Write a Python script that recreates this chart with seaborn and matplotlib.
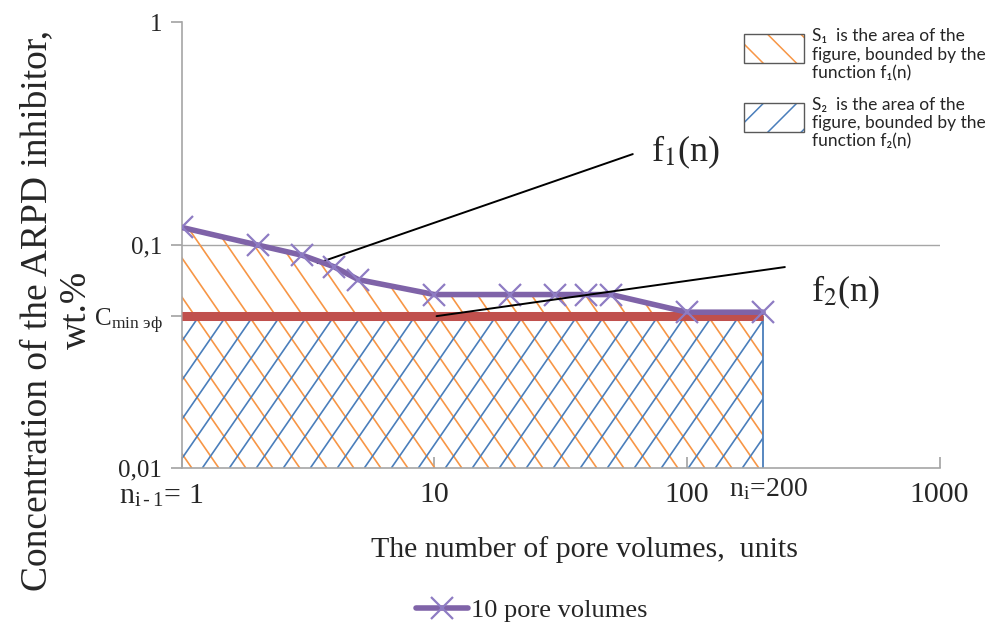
import matplotlib
matplotlib.use("Agg")
import matplotlib.pyplot as plt
import seaborn as sns
import numpy as np
from matplotlib.patches import Rectangle
from matplotlib.lines import Line2D
from matplotlib.collections import LineCollection
from matplotlib.transforms import ScaledTranslation, Affine2D
from matplotlib.legend_handler import HandlerBase

# ---- data ----
pore_volumes = [1, 2, 3, 4, 5, 10, 20, 30, 40, 50, 100, 200]
concentration_f1 = [0.12, 0.1, 0.09, 0.08, 0.07, 0.06, 0.06, 0.06, 0.06, 0.06, 0.05, 0.05]
c_min_eff = 0.048
n_start, n_end = 1, 200
x_ticks = [1, 10, 100, 1000]
x_tick_labels = [r"n$_{\mathregular{i\,\text{-}\,1}}$= 1", "10", "100", "1000"]
y_ticks = [0.01, c_min_eff, 0.1, 1]
y_tick_labels = ["0,01", r"C$_{\mathregular{min\ эф}}$", "0,1", "1"]
series_label = "10 pore volumes"
s1_label = "S\u2081  is the area of the\nfigure, bounded by the\nfunction f\u2081(n)"
s2_label = "S\u2082  is the area of the\nfigure, bounded by the\nfunction f\u2082(n)"

sns.set_theme(style="white")
plt.rcParams['font.family'] = ['Liberation Serif', 'DejaVu Serif']
plt.rcParams['mathtext.fontset'] = 'stix'
plt.rcParams['hatch.linewidth'] = 1.1

purple = "#7F63A8"
marker_purple = "#8E7CC3"
red = "#C0504D"
orange = "#F79646"
blue = "#4A7EBB"
grey = "#A6A6A6"

FW, FH = 9.88, 6.27
AX_RECT = [0.184, 0.2536, 0.767, 0.711]
fig = plt.figure(figsize=(FW, FH), dpi=100)
ax = fig.add_axes(AX_RECT)
ax.set_xscale('log')
ax.set_yscale('log')
ax.set_xlim(1, 1000)
ax.set_ylim(0.01, 1)

W = AX_RECT[2] * FW * 100
H = AX_RECT[3] * FH * 100

x = np.array(pore_volumes, dtype=float)
y = np.array(concentration_f1, dtype=float)

# invisible areas used as clip regions for the hatching
area1 = ax.fill_between(x, 0.01, y, facecolor='none', linewidth=0)
area2 = ax.fill_between([n_start, n_end], 0.01, c_min_eff, facecolor='none', linewidth=0)


def hatch(area, direction, color, spacing=27.0, slope=1.45, phase=0.0, z=1):
    dx = H / slope
    segs = []
    if direction > 0:  # '/'
        x0 = -dx + phase
        while x0 < W:
            segs.append([(x0, 0), (x0 + dx, H)])
            x0 += spacing
    else:  # '\'
        x0 = phase
        while x0 < W + dx:
            segs.append([(x0, 0), (x0 - dx, H)])
            x0 += spacing
    trans = Affine2D().scale(1 / W, 1 / H) + ax.transAxes
    lc = LineCollection(segs, colors=color, linewidths=1.2, transform=trans, zorder=z)
    ax.add_collection(lc, autolim=False)
    lc.set_clip_path(area.get_paths()[0], ax.transData)


hatch(area1, -1, orange, phase=10, z=1)
hatch(area2, +1, blue, phase=4, z=1.5)
ax.vlines(n_end, 0.01, c_min_eff, color=blue, lw=1.3, zorder=2)

# grid line at 0.1
ax.axhline(0.1, color=grey, lw=1, zorder=0.5)

# Cmin line
ax.hlines(c_min_eff, n_start, n_end, color=red, lw=6.5, zorder=3)

# f1 series
sns.lineplot(x=pore_volumes, y=concentration_f1, ax=ax, color=purple, linewidth=4,
             marker='x', markersize=16, markeredgewidth=1.6, markeredgecolor=marker_purple,
             legend=False, zorder=4)

# annotations
ax.annotate("", xy=(3.45, 0.083), xytext=(61, 0.256),
            arrowprops=dict(arrowstyle='-', color='black', lw=1.4, shrinkA=0, shrinkB=0))
ax.text(72, 0.262, "f$_1$(n)", fontsize=26, ha='left', va='center')
ax.annotate("", xy=(10.2, 0.048), xytext=(244, 0.0797), zorder=5,
            arrowprops=dict(arrowstyle='-', color='black', lw=1.4, shrinkA=0, shrinkB=0))
ax.text(310, 0.0615, "f$_2$(n)", fontsize=26, ha='left', va='center')
ax.annotate("n$_{\\mathregular{i}}$=200", xy=(n_end, 0), xycoords=('data', 'axes fraction'),
            xytext=(4, -6), textcoords='offset points', ha='center', va='top', fontsize=20)

# axes styling
for s in ['top', 'right']:
    ax.spines[s].set_visible(False)
for s in ['left', 'bottom']:
    ax.spines[s].set_color(grey)
    ax.spines[s].set_linewidth(1.2)

ax.set_xticks(x_ticks)
ax.set_xticklabels(x_tick_labels, fontsize=21.5)
ax.set_yticks(y_ticks)
ax.set_yticklabels(y_tick_labels, fontsize=18)
ax.minorticks_off()
ax.tick_params(axis='x', direction='in', length=8, color=grey, pad=10, bottom=True)
ax.tick_params(axis='y', direction='out', length=8, color=grey, pad=6, left=True)

lbl = ax.get_xticklabels()[0]
lbl.set_ha('right')
lbl.set_transform(lbl.get_transform() + ScaledTranslation(0.22, 0, fig.dpi_scale_trans))

ax.set_xlabel("The number of pore volumes,  units", fontsize=21.5)
ax.xaxis.set_label_coords(0.532, -0.152)
ax.set_ylabel("Concentration of the ARPD inhibitor,\nwt.%", fontsize=27,
              linespacing=1.2, va='center', ha='center')
ax.yaxis.set_label_coords(-0.165, 0.354)

# bottom legend
h = Line2D([], [], color=purple, lw=4, marker='x', markersize=16, markeredgewidth=1.6,
           markeredgecolor=marker_purple)
fig.legend([h], [series_label], loc='lower center', bbox_to_anchor=(0.538, -0.03),
           frameon=False, fontsize=19, handlelength=2.0, handletextpad=0.1)


# top-right hatch legend
class HatchBoxHandler(HandlerBase):
    def __init__(self, color, hatch_pat, shift):
        super().__init__()
        self.color = color
        self.hatch_pat = hatch_pat
        self.shift = shift

    def create_artists(self, legend, orig_handle, xdescent, ydescent, width, height,
                       fontsize, trans):
        xy = (-xdescent, -ydescent + self.shift)
        r1 = Rectangle(xy, width, height, facecolor='white', edgecolor=self.color,
                       hatch=self.hatch_pat, lw=0, transform=trans)
        r2 = Rectangle(xy, width, height, facecolor='none', edgecolor='#595959',
                       lw=1.0, transform=trans)
        return [r1, r2]


k1 = Rectangle((0, 0), 1, 1)
k2 = Rectangle((0, 0), 1, 1)
leg2 = fig.legend([k1, k2], [s1_label, s2_label], loc='upper right',
                  bbox_to_anchor=(0.998, 0.955), frameon=False,
                  prop={'family': ['Lato', 'DejaVu Sans'], 'size': 12.5},
                  handlelength=3.5, handleheight=2.2, labelspacing=0.9,
                  handletextpad=0.45, borderpad=0, borderaxespad=0,
                  handler_map={k1: HatchBoxHandler(orange, '\\', 5),
                               k2: HatchBoxHandler(blue, '/', 5)})
for t in leg2.get_texts():
    t.set_linespacing(1.18)

fig.savefig("out.png", dpi=100)
